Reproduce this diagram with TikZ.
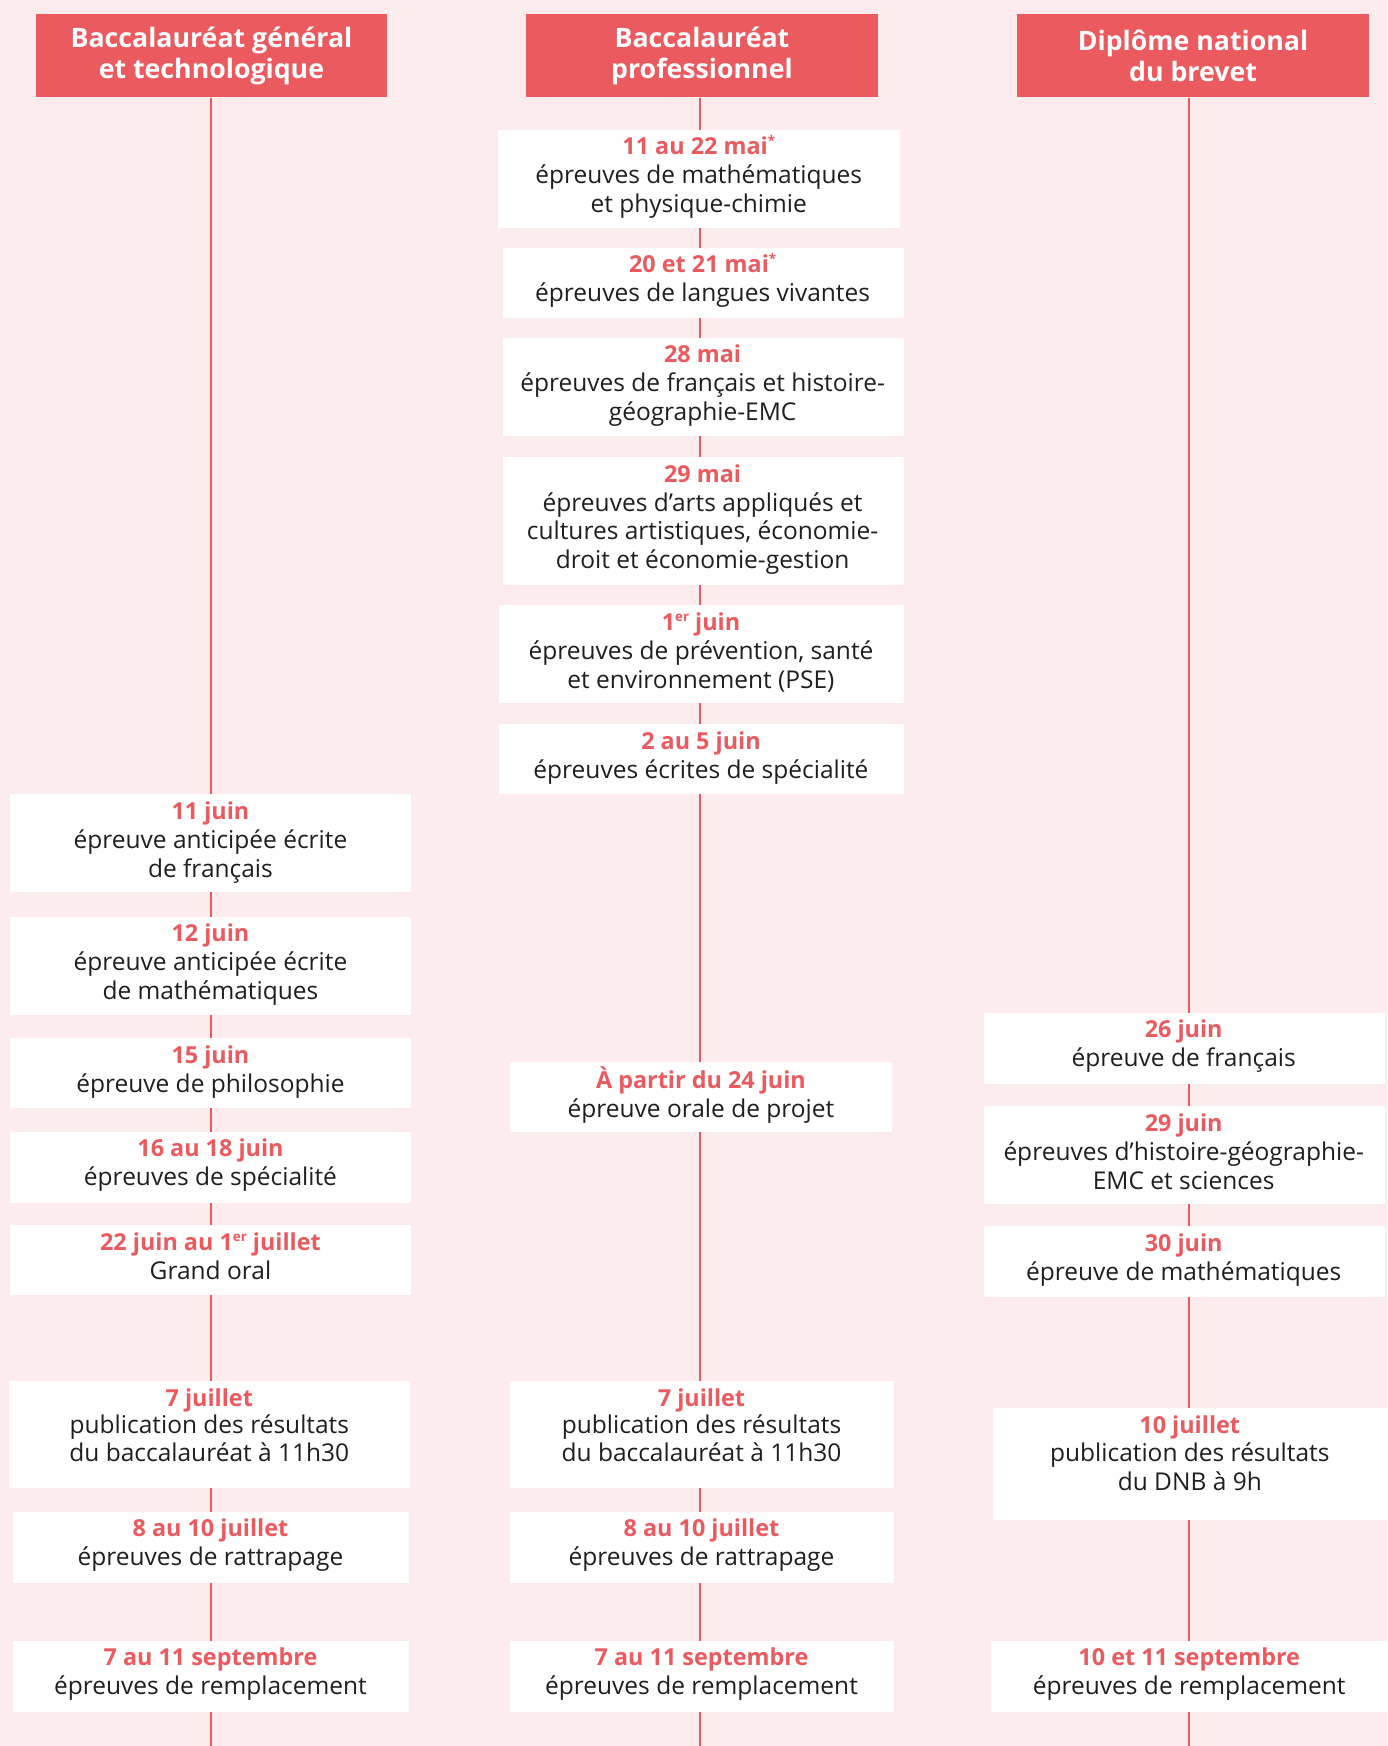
\documentclass[tikz,border=0pt]{standalone}
\usepackage{fontspec}
\setmainfont{Open Sans}
\definecolor{rouge}{HTML}{EA5A5F}
\definecolor{fond}{HTML}{FDECEE}
\definecolor{texte}{HTML}{1F1F1F}
\newcommand\supx[1]{\raisebox{0.38em}{\fontsize{6}{6}\selectfont #1}}
\newcommand\dte[1]{{\color{rouge}\bfseries\fontsize{10.5}{13}\selectfont\rule{0pt}{9pt}#1}}
\newcommand\evtbox[7]{%
  \pgfmathsetmacro\evX{(#2+#4)/2}%
  \pgfmathsetlengthmacro\evW{(#4-#2)*0.5pt}%
  \pgfmathsetlengthmacro\evH{(#5-#3)*0.5pt}%
  \node[evbox, minimum width=\evW, minimum height=\evH, anchor=north west] (#1) at (#2,#3) {};
  \node[evtext, font=\fontsize{11}{#6}\selectfont, anchor=north] (#1t) at (\evX,#3+4.5) {#7};
}
\begin{document}
\begin{tikzpicture}[x=0.5pt,y=-0.5pt,
  hdr/.style={fill=rouge, text=white, inner sep=0pt, align=center,
    font=\fontsize{12}{14}\selectfont\bfseries},
  evbox/.style={fill=white, inner sep=0pt},
  evtext/.style={text=texte, inner sep=0pt, align=center},
  tline/.style={draw=rouge, line width=1.1pt}]
\useasboundingbox (0,0) rectangle (1246,1568);
\fill[fond] (0,0) rectangle (1246,1568);

% headers
\node[hdr, minimum width=157.5pt, minimum height=37.5pt, anchor=north west] (h1) at (32,12) {Baccalauréat général\\et technologique};
\node[hdr, minimum width=158pt, minimum height=37.5pt, anchor=north west] (h2) at (472,12) {Baccalauréat\\professionnel};
\node[hdr, minimum width=158pt, minimum height=37.5pt, anchor=north west] (h3) at (913,12) {Diplôme national\\du brevet};

% timelines
\coordinate (e1) at (189.6,1568);
\coordinate (e2) at (628.8,1568);
\coordinate (e3) at (1068,1568);
\draw[tline] (h1.south -| e1) -- (e1);
\draw[tline] (h2.south -| e2) -- (e2);
\draw[tline] (h3.south -| e3) -- (e3);

% middle column
\evtbox{m1}{447}{116}{808}{204}{13}{\dte{11 au 22 mai\supx{*}}\\épreuves de mathématiques\\et physique-chimie}
\evtbox{m2}{451}{222}{811}{285}{13}{\dte{20 et 21 mai\supx{*}}\\épreuves de langues vivantes}
\evtbox{m3}{451}{303}{811}{391}{13}{\dte{28 mai}\\épreuves de français et histoire-\\géographie-EMC}
\evtbox{m4}{451}{410}{811}{525}{13}{\dte{29 mai}\\épreuves d’arts appliqués et\\cultures artistiques, économie-\\droit et économie-gestion}
\evtbox{m5}{448}{543}{811}{631}{13}{\dte{1\supx{er} juin}\\épreuves de prévention, santé\\et environnement (PSE)}
\evtbox{m6}{448}{650}{811}{713}{13}{\dte{2 au 5 juin}\\épreuves écrites de spécialité}
\evtbox{m7}{458}{953}{801}{1016}{13}{\dte{À partir du 24 juin}\\épreuve orale de projet}
\evtbox{m8}{458}{1240}{802}{1336}{12.3}{\dte{7 juillet}\\publication des résultats\\du baccalauréat à 11h30}
\evtbox{m9}{458}{1357}{802}{1421}{13}{\dte{8 au 10 juillet}\\épreuves de rattrapage}
\evtbox{m10}{458}{1473}{802}{1537}{13}{\dte{7 au 11 septembre}\\épreuves de remplacement}

% left column
\evtbox{l1}{9}{713}{369}{801}{13}{\dte{11 juin}\\épreuve anticipée écrite\\de français}
\evtbox{l2}{9}{823}{369}{911}{13}{\dte{12 juin}\\épreuve anticipée écrite\\de mathématiques}
\evtbox{l3}{9}{932}{369}{995}{13}{\dte{15 juin}\\épreuve de philosophie}
\evtbox{l4}{9}{1016}{369}{1080}{13}{\dte{16 au 18 juin}\\épreuves de spécialité}
\evtbox{l5}{9}{1100}{369}{1163}{13}{\dte{22 juin au 1\supx{er} juillet}\\Grand oral}
\evtbox{l6}{8}{1240}{368}{1336}{12.3}{\dte{7 juillet}\\publication des résultats\\du baccalauréat à 11h30}
\evtbox{l7}{11}{1357}{367}{1421}{13}{\dte{8 au 10 juillet}\\épreuves de rattrapage}
\evtbox{l8}{11}{1473}{367}{1537}{13}{\dte{7 au 11 septembre}\\épreuves de remplacement}

% right column
\evtbox{r1}{883}{909}{1243}{973}{13}{\dte{26 juin}\\épreuve de français}
\evtbox{r2}{883}{993}{1243}{1081}{13}{\dte{29 juin}\\épreuves d’histoire-géographie-\\EMC et sciences}
\evtbox{r3}{883}{1101}{1243}{1164}{13}{\dte{30 juin}\\épreuve de mathématiques}
\evtbox{r4}{891}{1264}{1246}{1365}{13}{\dte{10 juillet}\\publication des résultats\\du DNB à 9h}
\evtbox{r5}{890}{1473}{1246}{1537}{13}{\dte{10 et 11 septembre}\\épreuves de remplacement}
\end{tikzpicture}
\end{document}
